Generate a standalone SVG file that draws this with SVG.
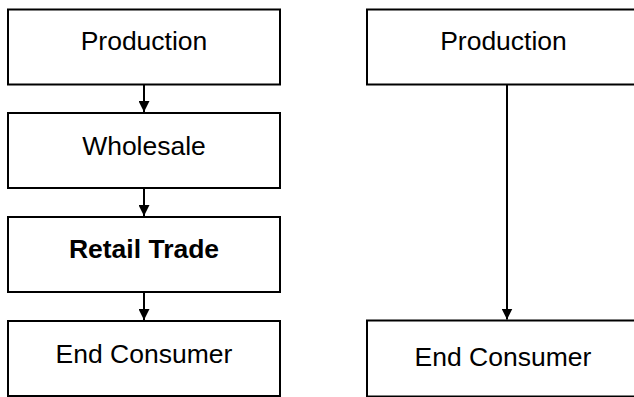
<svg xmlns="http://www.w3.org/2000/svg" width="634" height="397" viewBox="0 0 634 397">
  <style>
    .box { fill: #ffffff; stroke: #000000; stroke-width: 2; }
    .lbl { font-family: "Liberation Sans", Arial, sans-serif; font-size: 26.5px; fill: #000000; text-anchor: middle; }
    .bold { font-weight: bold; }
    .conn { stroke: #000000; stroke-width: 2; fill: none; marker-end: url(#arrow); }
  </style>
  <defs>
    <marker id="arrow" markerUnits="userSpaceOnUse" markerWidth="11" markerHeight="11" refX="11" refY="5.5" orient="auto">
      <path d="M0,0 L11,5.5 L0,11 z" fill="#000000"/>
    </marker>
  </defs>
  <rect width="634" height="397" fill="#ffffff"/>
  <g id="left-production">
    <rect class="box" x="8" y="9.5" width="272" height="75"/>
    <text class="lbl" x="144" y="50">Production</text>
  </g>
  <g id="left-wholesale">
    <rect class="box" x="8" y="113" width="272" height="75"/>
    <text class="lbl" x="144" y="155">Wholesale</text>
  </g>
  <g id="left-retail">
    <rect class="box" x="8" y="217" width="272" height="75"/>
    <text class="lbl bold" x="144" y="258">Retail Trade</text>
  </g>
  <g id="left-consumer">
    <rect class="box" x="8" y="321" width="272" height="75"/>
    <text class="lbl" x="144" y="363">End Consumer</text>
  </g>
  <g id="right-production">
    <rect class="box" x="367" y="9.5" width="280" height="75"/>
    <text class="lbl" x="503.5" y="50">Production</text>
  </g>
  <g id="right-consumer">
    <rect class="box" x="367" y="320.5" width="280" height="76"/>
    <text class="lbl" x="503" y="366">End Consumer</text>
  </g>
  <g id="connectors">
    <line class="conn" x1="144" y1="84.5" x2="144" y2="112"/>
    <line class="conn" x1="144" y1="188" x2="144" y2="216"/>
    <line class="conn" x1="144" y1="292" x2="144" y2="320"/>
    <line class="conn" x1="507" y1="84.5" x2="507" y2="319.5"/>
  </g>
</svg>
